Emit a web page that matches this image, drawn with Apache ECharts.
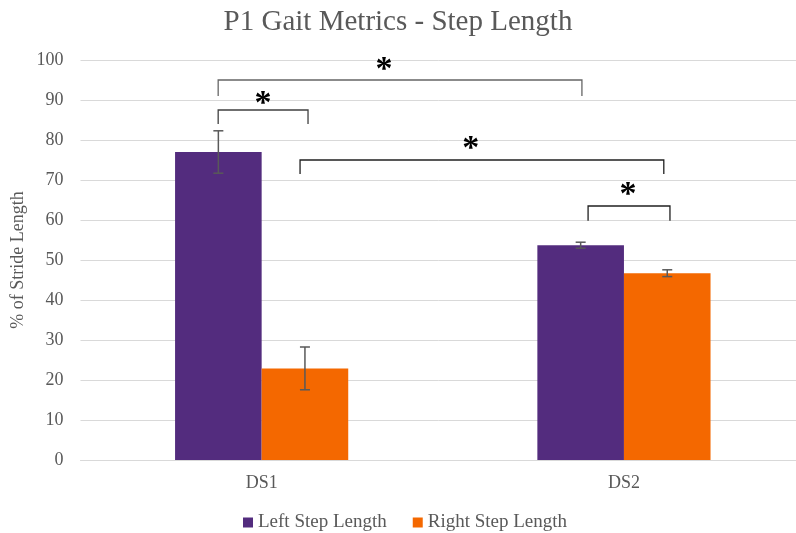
<!DOCTYPE html>
<html>
<head>
<meta charset="utf-8">
<script src="https://cdn.jsdelivr.net/npm/echarts@6/dist/echarts.min.js"></script>
<style>html,body{margin:0;padding:0;background:#fff;}#c{width:796px;height:533px;}</style>
</head>
<body>
<div id="c"></div>
<script>
const categories = ['DS1', 'DS2'];
const leftValues = [77.0, 53.7];
const leftErrors = [5.3, 0.75];
const rightValues = [22.9, 46.7];
const rightErrors = [5.35, 0.85];
const yTicks = [0, 10, 20, 30, 40, 50, 60, 70, 80, 90, 100];
// brackets in overlay units: x from 0 (left of DS1) to 2 (right of DS2)
// [xStart, xEnd, yStartLow, yEndLow, yTop, colour]
const brackets = [
  [0.380, 1.384, 91.0, 91.0, 95.0, '#666666'],
  [0.380, 0.628, 84.0, 84.0, 87.5, '#404040'],
  [0.606, 1.610, 71.5, 71.5, 75.0, '#202020'],
  [1.401, 1.627, 59.8, 59.8, 63.5, '#202020']
];
const stars = [
  [0.838, 97.5],
  [0.504, 89.0],
  [1.077, 77.7],
  [1.511, 66.2]
];

const FONT = '"Liberation Serif", "Times New Roman", serif';
const TXT = '#595959';
const chart = echarts.init(document.getElementById('c'), null, {renderer: 'canvas'});

function errorRender(side) {
  return function (params, api) {
    const c = api.value(0);
    const lo = api.coord([c, api.value(1)]);
    const hi = api.coord([c, api.value(2)]);
    const band = api.size([1, 0])[0];
    const x = lo[0] + side * band * 0.1195;
    const w = 5;
    const style = {stroke: '#595959', lineWidth: 1.5};
    return {type: 'group', children: [
      {type: 'line', shape: {x1: x, y1: lo[1], x2: x, y2: hi[1]}, style},
      {type: 'line', shape: {x1: x - w, y1: lo[1], x2: x + w, y2: lo[1]}, style},
      {type: 'line', shape: {x1: x - w, y1: hi[1], x2: x + w, y2: hi[1]}, style}
    ]};
  };
}

chart.setOption({
  animation: false,
  backgroundColor: '#fff',
  title: {
    text: 'P1 Gait Metrics - Step Length',
    left: 'center', top: 3,
    textStyle: {fontFamily: FONT, fontSize: 29, fontWeight: 'normal', color: TXT}
  },
  legend: {
    top: 508, left: 238,
    itemWidth: 10, itemHeight: 10, itemGap: 26,
    icon: 'rect',
    data: ['Left Step Length', 'Right Step Length'],
    textStyle: {fontFamily: FONT, fontSize: 19, color: TXT, padding: [0, 0, 0, 0]}
  },
  grid: {left: 80.5, width: 724.6, top: 60, bottom: 73, containLabel: false, outerBoundsMode: 'none'},
  xAxis: [{
    type: 'category', data: categories,
    axisLine: {lineStyle: {color: '#d9d9d9', width: 1}},
    axisTick: {show: false},
    axisLabel: {fontFamily: FONT, fontSize: 18, color: TXT, margin: 14}
  }, {
    type: 'value', min: 0, max: 2, show: false
  }],
  yAxis: {
    type: 'value', min: 0, max: 100, interval: 10,
    name: '% of Stride Length', nameLocation: 'middle', nameGap: 53,
    nameMoveOverlap: false,
    nameTextStyle: {fontFamily: FONT, fontSize: 18, color: TXT},
    axisLine: {show: false}, axisTick: {show: false},
    axisLabel: {fontFamily: FONT, fontSize: 18, color: TXT, margin: 17,
      formatter: v => yTicks.includes(v) ? String(v) : ''},
    splitLine: {lineStyle: {color: '#d9d9d9', width: 1}}
  },
  series: [{
    name: 'Left Step Length', type: 'bar', data: leftValues,
    barWidth: '23.9%', barGap: '0%',
    itemStyle: {color: '#532C7E'}
  }, {
    name: 'Right Step Length', type: 'bar', data: rightValues,
    barWidth: '23.9%', barGap: '0%',
    itemStyle: {color: '#F46800'}
  }, {
    type: 'custom', renderItem: errorRender(-1), z: 5,
    data: leftValues.map((v, i) => [i, v - leftErrors[i], v + leftErrors[i]])
  }, {
    type: 'custom', renderItem: errorRender(1), z: 5,
    data: rightValues.map((v, i) => [i, v - rightErrors[i], v + rightErrors[i]])
  }, {
    type: 'custom', xAxisIndex: 1, z: 6,
    renderItem: function (params, api) {
      const b = brackets[params.dataIndex];
      const p1 = api.coord([b[0], b[2]]);
      const p2 = api.coord([b[0], b[4]]);
      const p3 = api.coord([b[1], b[4]]);
      const p4 = api.coord([b[1], b[3]]);
      return {type: 'polyline', shape: {points: [p1, p2, p3, p4]},
        style: {stroke: b[5], lineWidth: 1.3, fill: null}};
    },
    data: brackets.map(b => [b[0], b[4]])
  }, {
    type: 'custom', xAxisIndex: 1, z: 6,
    renderItem: function (params, api) {
      const p = api.coord([api.value(0), api.value(1)]);
      return {type: 'text', x: p[0], y: p[1],
        style: {text: '*', fontFamily: FONT, fontSize: 34, fontWeight: 'bold',
          fill: '#000', align: 'center', verticalAlign: 'middle'}};
    },
    data: stars
  }]
});
</script>
</body>
</html>
